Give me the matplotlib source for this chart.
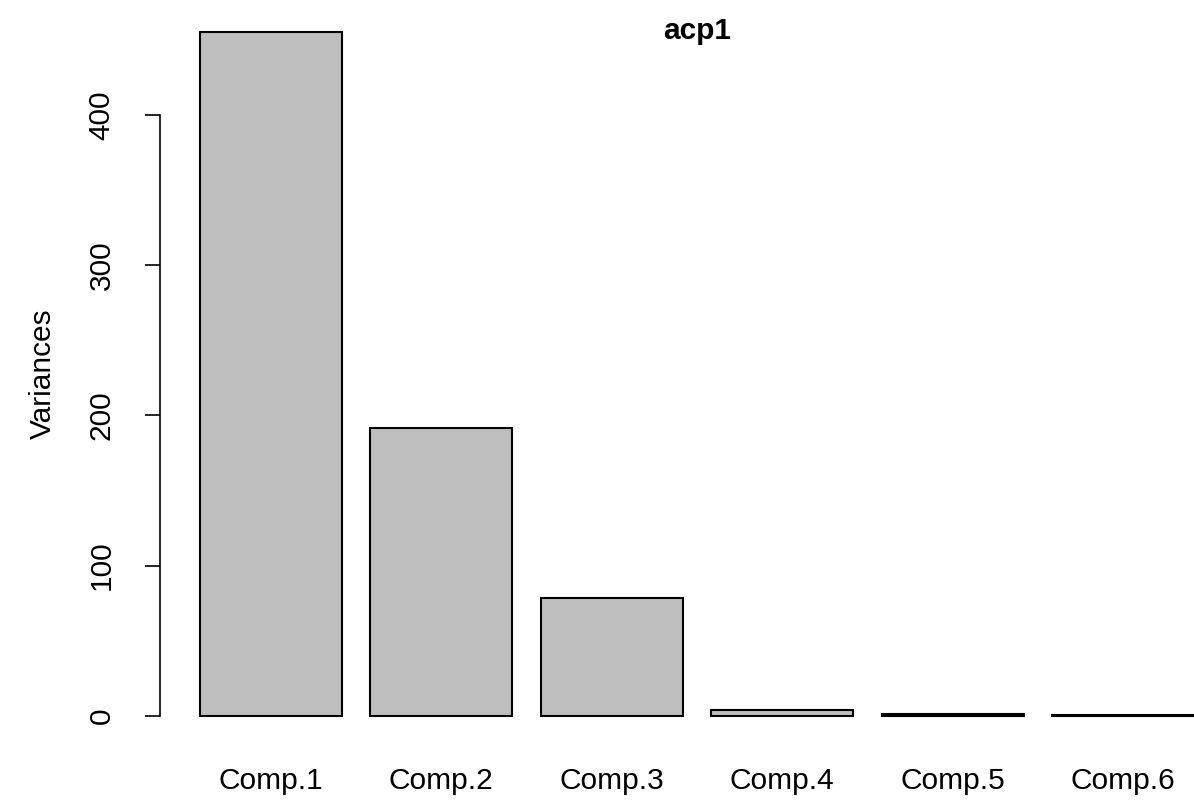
import matplotlib
matplotlib.use("Agg")
import matplotlib.pyplot as plt

components = ["Comp.1", "Comp.2", "Comp.3", "Comp.4", "Comp.5", "Comp.6"]
variances = [455.2, 191.3, 78.2, 3.9, 1.0, 0.3]
y_ticks = [0, 100, 200, 300, 400]
title = "acp1"
y_label = "Variances"

plt.rcParams["font.family"] = ["Liberation Sans", "DejaVu Sans"]

W, H = 1194, 807
fig = plt.figure(figsize=(W / 100, H / 100), dpi=100)
PT = 0.72  # points per pixel at 100 dpi

# plot region in pixels (extends past right edge, as the device was cropped)
left_px, right_px, top_px, bottom_px = 160, 1234, 5, 743
ax = fig.add_axes([left_px / W, 1 - bottom_px / H,
                   (right_px - left_px) / W, (bottom_px - top_px) / H])

width = 1.0
space = 0.2
lefts = [space + i * (width + space) for i in range(len(variances))]
centers = [l + width / 2 for l in lefts]

ax.bar(centers, variances, width=width, color="#BEBEBE",
       edgecolor="black", linewidth=1.5)

x_lo, x_hi = lefts[0], lefts[-1] + width
pad = 0.04 * (x_hi - x_lo)
ax.set_xlim(x_lo - pad, x_hi + pad)
y_top = max(variances)
ax.set_ylim(-0.04 * y_top, y_top * 1.04)

for s in ["top", "right", "bottom"]:
    ax.spines[s].set_visible(False)
ax.spines["left"].set_bounds(y_ticks[0], y_ticks[-1])
ax.spines["left"].set_linewidth(1.2)

fs = 21.5
ax.set_yticks(y_ticks)
ax.set_yticklabels([str(v) for v in y_ticks], rotation=90, va="center",
                   fontsize=fs)
ax.tick_params(axis="y", length=15 * PT, width=1.2, pad=21)

ax.set_xticks(centers)
ax.set_xticklabels(components, fontsize=fs)
ax.tick_params(axis="x", length=0, pad=24 * PT)

ax.set_ylabel(y_label, fontsize=fs, labelpad=22)
fig.text((left_px + right_px) / 2 / W, 1 - 31 / H, title, fontsize=fs,
         fontweight="bold", ha="center", va="center")

fig.savefig("out.png", dpi=100)
